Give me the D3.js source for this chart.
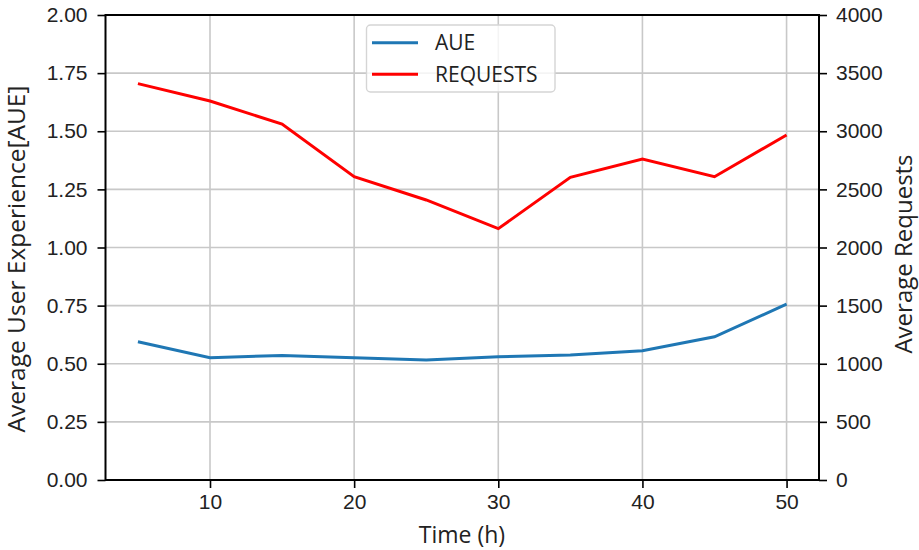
<!DOCTYPE html>
<html>
<head>
<meta charset="utf-8">
<script src="https://cdn.jsdelivr.net/npm/d3@7"></script>
<style>
  body { margin: 0; background: #fff; }
  svg { display: block; font-family: "Open Sans", "DejaVu Sans", sans-serif; }
</style>
</head>
<body>
<svg id="chart" width="919" height="550"></svg>
<script>
var hours = [5, 10, 15, 20, 25, 30, 35, 40, 45, 50];
var aue = [0.595, 0.526, 0.536, 0.526, 0.516, 0.530, 0.538, 0.556, 0.616, 0.756];
var requests = [3410, 3260, 3062, 2609, 2409, 2162, 2604, 2761, 2609, 2968];

var xTicks = [10, 20, 30, 40, 50];
var leftTicks = [0, 0.25, 0.5, 0.75, 1.0, 1.25, 1.5, 1.75, 2.0];
var rightTicks = [0, 500, 1000, 1500, 2000, 2500, 3000, 3500, 4000];

var plotL = 105.5, plotR = 819, plotT = 15, plotB = 480;

var svg = d3.select("#chart");

var x = d3.scaleLinear().domain([2.75, 52.25]).range([plotL, plotR]);
var yL = d3.scaleLinear().domain([0, 2]).range([plotB, plotT]);
var yR = d3.scaleLinear().domain([0, 4000]).range([plotB, plotT]);

// grid
var grid = svg.append("g").attr("stroke", "#c8c8c8").attr("stroke-width", 1.6);
grid.selectAll(".gx").data(xTicks).enter().append("line")
    .attr("x1", d => x(d)).attr("x2", d => x(d))
    .attr("y1", plotT).attr("y2", plotB);
grid.selectAll(".gy").data(leftTicks).enter().append("line")
    .attr("x1", plotL).attr("x2", plotR)
    .attr("y1", d => yL(d)).attr("y2", d => yL(d));

// lines
var lineAue = d3.line().x((d, i) => x(hours[i])).y(d => yL(d));
var lineReq = d3.line().x((d, i) => x(hours[i])).y(d => yR(d));

svg.append("path").datum(aue)
    .attr("d", lineAue)
    .attr("fill", "none").attr("stroke", "#1f77b4").attr("stroke-width", 3);
svg.append("path").datum(requests)
    .attr("d", lineReq)
    .attr("fill", "none").attr("stroke", "#ff0000").attr("stroke-width", 3);

// axes
function styleAxis(g) {
    g.select(".domain").remove();
    g.selectAll(".tick line").attr("stroke", "#000").attr("stroke-width", 1.6);
    g.selectAll(".tick text").attr("fill", "#222").attr("font-size", "21px");
}

svg.append("g").attr("transform", "translate(0," + plotB + ")")
    .call(d3.axisBottom(x).tickValues(xTicks).tickSize(8).tickPadding(6).tickFormat(d3.format("d")))
    .call(styleAxis);

svg.append("g").attr("transform", "translate(" + plotL + ",0)")
    .call(d3.axisLeft(yL).tickValues(leftTicks).tickSize(8).tickPadding(10).tickFormat(d3.format(".2f")))
    .call(styleAxis);

svg.append("g").attr("transform", "translate(" + plotR + ",0)")
    .call(d3.axisRight(yR).tickValues(rightTicks).tickSize(8).tickPadding(9).tickFormat(d3.format("d")))
    .call(styleAxis);

// frame
svg.append("rect")
    .attr("x", plotL).attr("y", plotT)
    .attr("width", plotR - plotL).attr("height", plotB - plotT)
    .attr("fill", "none").attr("stroke", "#000").attr("stroke-width", 2);

// labels
svg.append("text").attr("x", 462).attr("y", 543)
    .attr("text-anchor", "middle").attr("font-size", "23px").attr("fill", "#222")
    .text("Time (h)");
svg.append("text")
    .attr("transform", "translate(25,259) rotate(-90)")
    .attr("text-anchor", "middle").attr("font-size", "24.5px").attr("fill", "#222")
    .text("Average User Experience[AUE]");
svg.append("text")
    .attr("transform", "translate(912,254) rotate(-90)")
    .attr("text-anchor", "middle").attr("font-size", "24px").attr("fill", "#222")
    .text("Average Requests");

// legend
var legend = svg.append("g");
legend.append("rect")
    .attr("x", 366.5).attr("y", 25).attr("width", 188.5).attr("height", 67)
    .attr("rx", 4).attr("fill", "#fff").attr("fill-opacity", 0.8)
    .attr("stroke", "#d5d5d5").attr("stroke-width", 1.4);
var items = [["AUE", "#1f77b4"], ["REQUESTS", "#ff0000"]];
items.forEach(function (it, i) {
    var yy = 42.7 + i * 31.6;
    legend.append("line").attr("x1", 372).attr("x2", 418)
        .attr("y1", yy).attr("y2", yy)
        .attr("stroke", it[1]).attr("stroke-width", 3);
    legend.append("text").attr("x", 435).attr("y", yy + 7.5)
        .attr("font-size", "21px").attr("fill", "#222").text(it[0]);
});
</script>
</body>
</html>
